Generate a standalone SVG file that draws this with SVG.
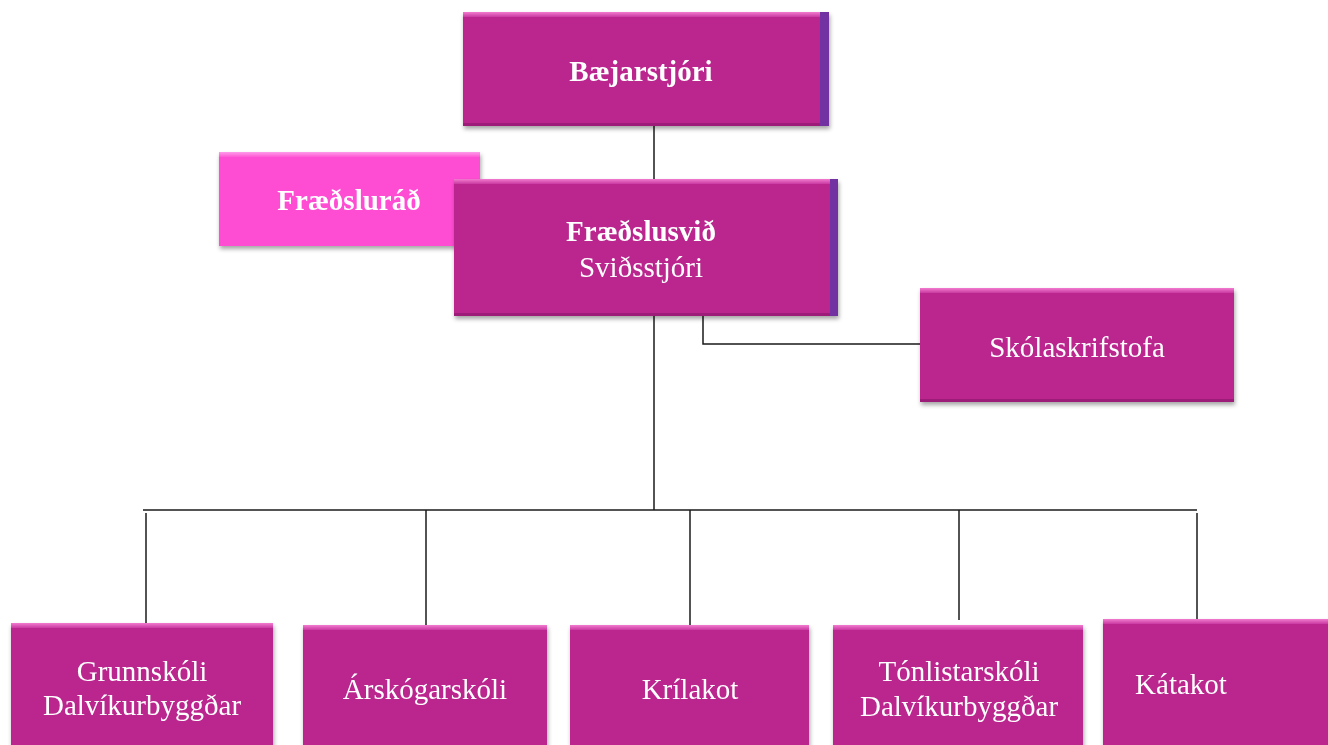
<svg xmlns="http://www.w3.org/2000/svg" width="1328" height="745" viewBox="0 0 1328 745">
<defs>
<filter id="sh" x="-10%" y="-10%" width="120%" height="130%">
<feDropShadow dx="1" dy="3" stdDeviation="2" flood-color="#000" flood-opacity="0.35"/>
</filter>
<linearGradient id="topb" x1="0" y1="0" x2="0" y2="1">
<stop offset="0" stop-color="#F27ACF"/>
<stop offset="1" stop-color="#C93AA0"/>
</linearGradient>
<linearGradient id="topp" x1="0" y1="0" x2="0" y2="1">
<stop offset="0" stop-color="#FF9BEA"/>
<stop offset="1" stop-color="#FF5AD6"/>
</linearGradient>
</defs>
<style>
.box{fill:#BA268E}
.pink{fill:#FF4DD3}
.strip{fill:#7330A2}
.edge{fill:#9E1F79}
.line{stroke:#1a1a1a;stroke-width:1.5;fill:none}
text{font-family:"Liberation Serif","Times New Roman",serif;font-size:29px;fill:#fff;text-anchor:middle}
.b{font-weight:bold}
</style>
<g id="connectors">
<path class="line" d="M654 126V180"/>
<path class="line" d="M654 316V510"/>
<path class="line" d="M703 316V344H921"/>
<path class="line" d="M143 510H1197"/>
<path class="line" d="M146 513V628"/>
<path class="line" d="M426 510V625"/>
<path class="line" d="M690 510V625"/>
<path class="line" d="M959 510V620"/>
<path class="line" d="M1197 513V622"/>
</g>
<g id="baejarstjori" filter="url(#sh)">
<rect class="strip" x="818" y="12" width="11" height="114"/>
<rect class="box" x="463" y="12" width="357" height="114"/>
<rect x="463" y="12" width="357" height="5" fill="url(#topb)"/>
<rect class="edge" x="463" y="123" width="357" height="3"/>
<text class="b" x="641" y="81">Bæjarstjóri</text>
</g>
<g id="fraedslurad" filter="url(#sh)">
<rect class="pink" x="219" y="152" width="261" height="94"/>
<rect x="219" y="152" width="261" height="5" fill="url(#topp)"/>
<text class="b" x="349" y="210">Fræðsluráð</text>
</g>
<g id="fraedslusvid" filter="url(#sh)">
<rect class="strip" x="828" y="179" width="10" height="137"/>
<rect class="box" x="454" y="179" width="376" height="137"/>
<rect x="454" y="179" width="376" height="5" fill="url(#topb)"/>
<rect class="edge" x="454" y="313" width="376" height="3"/>
<text class="b" x="641" y="241">Fræðslusvið</text>
<text x="641" y="277">Sviðsstjóri</text>
</g>
<g id="skolaskrifstofa" filter="url(#sh)">
<rect class="box" x="920" y="288" width="314" height="114"/>
<rect x="920" y="288" width="314" height="5" fill="url(#topb)"/>
<rect class="edge" x="920" y="399" width="314" height="3"/>
<text x="1077" y="357">Skólaskrifstofa</text>
</g>
<g id="grunnskoli" filter="url(#sh)">
<rect class="box" x="11" y="623" width="262" height="130"/>
<rect x="11" y="623" width="262" height="5" fill="url(#topb)"/>
<text x="142" y="681">Grunnskóli</text>
<text x="142" y="715">Dalvíkurbyggðar</text>
</g>
<g id="arskogarskoli" filter="url(#sh)">
<rect class="box" x="303" y="625" width="244" height="130"/>
<rect x="303" y="625" width="244" height="5" fill="url(#topb)"/>
<text x="425" y="699">Árskógarskóli</text>
</g>
<g id="krilakot" filter="url(#sh)">
<rect class="box" x="570" y="625" width="239" height="130"/>
<rect x="570" y="625" width="239" height="5" fill="url(#topb)"/>
<text x="690" y="699">Krílakot</text>
</g>
<g id="tonlistarskoli" filter="url(#sh)">
<rect class="box" x="833" y="625" width="250" height="130"/>
<rect x="833" y="625" width="250" height="5" fill="url(#topb)"/>
<text x="959" y="681">Tónlistarskóli</text>
<text x="959" y="716">Dalvíkurbyggðar</text>
</g>
<g id="katakot" filter="url(#sh)">
<rect class="box" x="1103" y="619" width="230" height="136"/>
<rect x="1103" y="619" width="230" height="5" fill="url(#topb)"/>
<text x="1181" y="694">Kátakot</text>
</g>
</svg>
